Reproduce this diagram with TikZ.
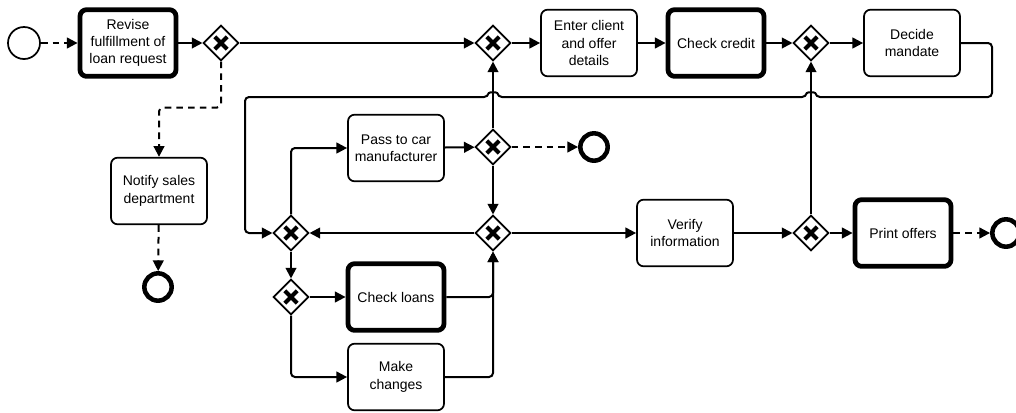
\documentclass[tikz,border=0pt]{standalone}
\usepackage{fontspec}
\setmainfont{Liberation Sans}
\usetikzlibrary{shapes.geometric,arrows.meta}
\begin{document}
\begin{tikzpicture}[x=0.75pt,y=-0.75pt,
  >={Triangle[length=8pt,width=8pt]},
  task/.style={rectangle, draw, rounded corners=5pt, line width=1.3pt, fill=white,
    minimum width=72pt, minimum height=50pt, inner sep=1pt, align=center,
    font=\fontsize{10.5}{13}\selectfont},
  thicktask/.style={task, line width=3.6pt},
  gw/.style={diamond, draw, line width=1.3pt, fill=white, minimum size=26.5pt, inner sep=0pt, aspect=1,
    path picture={
      \draw[line width=3pt] ([shift={(-4.6pt,-4.6pt)}]path picture bounding box.center) -- ([shift={(4.6pt,4.6pt)}]path picture bounding box.center);
      \draw[line width=3pt] ([shift={(-4.6pt,4.6pt)}]path picture bounding box.center) -- ([shift={(4.6pt,-4.6pt)}]path picture bounding box.center);}},
  startev/.style={circle, draw, line width=1.3pt, fill=white, minimum size=24pt, inner sep=0pt},
  endev/.style={circle, draw, line width=3.4pt, fill=white, minimum size=20.5pt, inner sep=0pt},
  conn/.style={line width=1.5pt, rounded corners=3pt},
  dconn/.style={conn, dash pattern=on 5pt off 3.8pt}
]
\fill[white] (0,0) rectangle (1016,412);
\useasboundingbox (0,0) rectangle (1016,412);

% nodes
\node[startev] (start) at (24,43) {};
\node[thicktask] (revise) at (128,43) {Revise\\fulfillment of\\loan request};
\node[gw] (g1) at (221,43) {};
\node[gw] (g2) at (493,43) {};
\node[task] (enter) at (589,43) {Enter client\\and offer\\details};
\node[thicktask] (credit) at (716,43) {Check credit};
\node[gw] (g3) at (811,43) {};
\node[task] (decide) at (912,43) {Decide\\mandate};
\node[task] (notify) at (159,191) {Notify sales\\department};
\node[endev] (endA) at (158,287) {};
\node[task] (pass) at (396,148) {Pass to car\\manufacturer};
\node[gw] (gmt) at (493,147) {};
\node[endev] (endB) at (594,147) {};
\node[gw] (gleft) at (291,233) {};
\node[gw] (gmb) at (493,233) {};
\node[task] (verify) at (685,233) {Verify\\information};
\node[gw] (gright) at (811,233) {};
\node[thicktask] (print) at (903,233) {Print offers};
\node[endev] (endC) at (1006,233) {};
\node[gw] (gl2) at (291,297) {};
\node[thicktask] (loans) at (396,297) {Check loans};
\node[task] (changes) at (396,377) {Make\\changes};

% connectors
\draw[dconn,->] (start) -- (revise);
\draw[conn,->] (revise) -- (g1);
\draw[conn,->] (g1) -- (g2);
\draw[conn,->] (g2) -- (enter);
\draw[conn,->] (enter) -- (credit);
\draw[conn,->] (credit) -- (g3);
\draw[conn,->] (g3) -- (decide);
\draw[conn,->] (decide.east) -- (992,43) -- (992,97) -- (816,97)
  .. controls (815,92) and (807,92) .. (806,97) -- (498,97)
  .. controls (497,92) and (489,92) .. (488,97) -- (245,97) -- (245,233) -- (gleft.west);
\draw[dconn,->] (g1.south) -- ++(0,46) -| (notify.north);
\draw[dconn,->] (notify) -- (endA);
\draw[conn,->] (gleft.north) |- (pass.west);
\draw[conn,->] (pass) -- (gmt);
\draw[dconn,->] (gmt) -- (endB);
\draw[conn,->] (gmt) -- (gmb);
\draw[conn,->] (gmt.north) -- (g2.south);
\draw[conn,->] (gmb) -- (gleft);
\draw[conn,->] (gmb) -- (verify);
\draw[conn,->] (verify) -- (gright);
\draw[conn,->] (gright) -- (print);
\draw[dconn,->] (print) -- (endC);
\draw[conn,->] (gright.north) -- (g3.south);
\draw[conn,->] (gleft) -- (gl2);
\draw[conn,->] (gl2) -- (loans);
\draw[conn,->] (gl2.south) |- (changes.west);
\draw[conn,->] (loans.east) -| (gmb.south);
\draw[conn,->] (changes.east) -| (gmb.south);
\end{tikzpicture}
\end{document}
